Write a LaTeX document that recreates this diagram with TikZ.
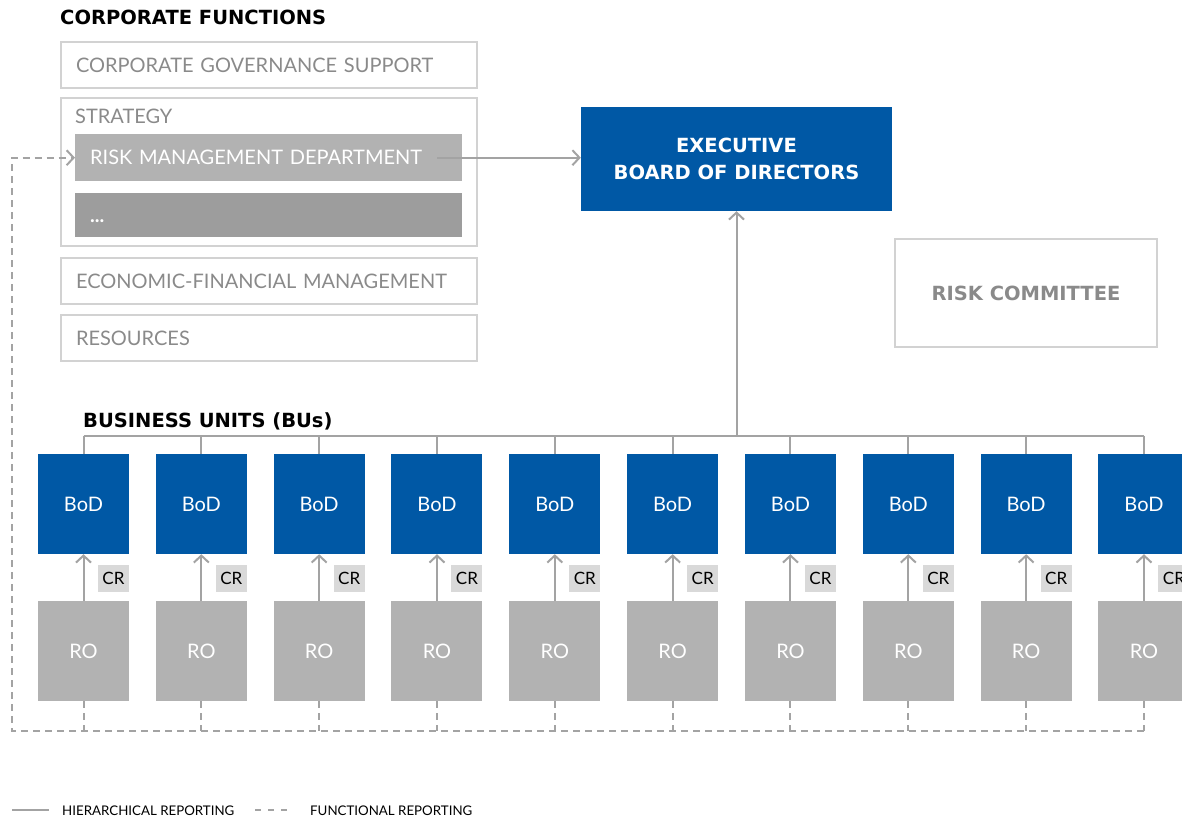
\documentclass[tikz,border=0pt]{standalone}
\usepackage{fontspec}
\setmainfont{Lato}
\newfontfamily\headfont{DejaVu Sans}
\usetikzlibrary{arrows.meta}
\begin{document}
\begin{tikzpicture}[x=1pt, y=-1pt,
  cfbox/.style={draw=framegrey, line width=2pt, text=labelgrey, minimum height=46pt, text width=386pt, inner xsep=15pt, align=left, anchor=north west, font=\fontsize{20}{23}\selectfont},
  deptbox/.style={fill=#1, text=white, minimum height=47pt, text width=357pt, inner xsep=15pt, align=left, anchor=north west, font=\fontsize{20}{23}\selectfont},
  heading/.style={anchor=base west, inner sep=0pt, font=\headfont\bfseries\fontsize{19.5}{22}\selectfont},
  bodbox/.style={fill=boardblue, text=white, minimum width=91pt, minimum height=100pt, inner sep=0pt, font=\fontsize{20}{23}\selectfont},
  robox/.style={fill=rogrey, text=white, minimum width=91pt, minimum height=100pt, inner sep=0pt, font=\fontsize{20}{23}\selectfont},
  crtag/.style={fill=tagfill, text=black, minimum width=31pt, minimum height=27pt, inner sep=0pt, font=\fontsize{17}{20}\selectfont},
  hier/.style={draw=linkgrey, line width=2pt},
  func/.style={draw=linkgrey, line width=2pt, dash pattern=on 7pt off 5pt},
  tip/.style={-{Straight Barb[length=7pt, width=15pt, line width=2pt]}},
  keytext/.style={anchor=base west, inner sep=0pt, font=\fontsize{13.3}{15}\selectfont}]
\definecolor{boardblue}{HTML}{0058A5}
\definecolor{framegrey}{HTML}{D2D2D2}
\definecolor{labelgrey}{HTML}{8A8A8A}
\definecolor{rogrey}{HTML}{B2B2B2}
\definecolor{dotsgrey}{HTML}{9D9D9D}
\definecolor{tagfill}{HTML}{D9D9D9}
\definecolor{linkgrey}{HTML}{A3A3A3}
\useasboundingbox (0,0) rectangle (1182,818);

\node[heading] (cftitle) at (60,25) {CORPORATE FUNCTIONS};
\node[cfbox] (cgs) at (60,41) {CORPORATE GOVERNANCE SUPPORT};
\node[draw=framegrey, line width=2pt, minimum width=416pt, minimum height=148pt, anchor=north west] (strategy) at (60,97) {};
\node[anchor=west, inner sep=0pt, text=labelgrey, font=\fontsize{20}{23}\selectfont] (stratlabel) at (75,116) {STRATEGY};
\node[deptbox=rogrey] (rmd) at (75,134) {RISK MANAGEMENT DEPARTMENT};
\node[deptbox=dotsgrey, minimum height=44pt] (others) at (75,193) {\vphantom{A}\textbf{...}};
\node[cfbox] (efm) at (60,257) {ECONOMIC-FINANCIAL MANAGEMENT};
\node[cfbox] (res) at (60,314) {RESOURCES};

\node[fill=boardblue, text=white, minimum width=311pt, minimum height=104pt, align=center, font=\headfont\bfseries\fontsize{19.5}{27}\selectfont] (ebod) at (736.5,159) {EXECUTIVE\\BOARD OF DIRECTORS};
\node[draw=framegrey, line width=2pt, text=labelgrey, minimum width=262pt, minimum height=108pt, font=\headfont\bfseries\fontsize{19.5}{22}\selectfont] (riskcom) at (1026,293) {RISK COMMITTEE};

\draw[hier, tip] ([xshift=-25pt]rmd.east) -- (rmd.east -| ebod.west);

\node[heading] (butitle) at (83,427) {BUSINESS UNITS (BUs)};
\coordinate (bus) at (ebod.south |- 0,436);
\coordinate (loop) at (12,731);

\foreach \i [evaluate=\i as \cx using 83.5+117.83*\i] in {0,...,9} {
  \node[bodbox] (bod\i) at (\cx,504) {BoD};
  \node[robox] (ro\i) at (\cx,651) {RO};
  \node[crtag] (cr\i) at (\cx+30,578.5) {CR};
  \draw[hier] (bod\i.north) -- (bod\i.north |- bus);
  \draw[hier, tip] (ro\i.north) -- (bod\i.south);
  \draw[func] (ro\i.south) -- (ro\i.south |- loop);
}
\draw[hier] (bod0.north |- bus) -- (bod9.north |- bus);
\draw[hier, tip] (bus) -- (ebod.south);
\draw[func, tip] (ro9.south |- loop) -- (loop) |- (rmd.west);

\coordinate (hierA) at (12,810);
\coordinate (hierB) at (49,810);
\coordinate (funcA) at (255,810);
\coordinate (funcB) at (289,810);
\draw[hier] (hierA) -- (hierB);
\draw[func, dash pattern=on 6pt off 7pt] (funcA) -- (funcB);
\node[keytext] (hierkey) at (62,815) {HIERARCHICAL REPORTING};
\node[keytext] (funckey) at (310,815) {FUNCTIONAL REPORTING};
\end{tikzpicture}
\end{document}
